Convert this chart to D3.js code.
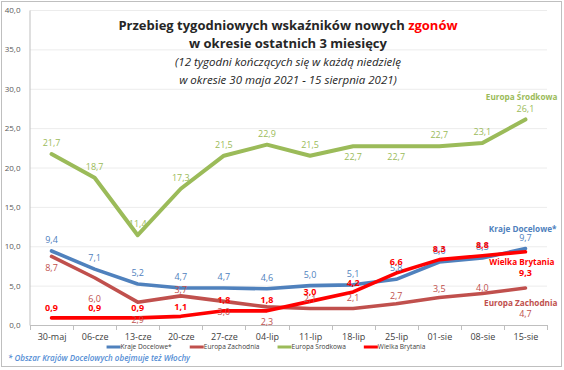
<!DOCTYPE html>
<html>
<head>
<meta charset="utf-8">
<script src="https://cdn.jsdelivr.net/npm/d3@7"></script>
<style>
	body { margin: 0; background: #fff; }
	svg text { font-family: "Open Sans", "Noto Sans", sans-serif; }
</style>
</head>
<body>
<svg id="chart" width="564" height="370"></svg>
<script>
// dane
var weeks = ["30-maj", "06-cze", "13-cze", "20-cze", "27-cze", "04-lip", "11-lip", "18-lip", "25-lip", "01-sie", "08-sie", "15-sie"];
var krajeDocelowe   = [9.4, 7.1, 5.2, 4.7, 4.7, 4.6, 5.0, 5.1, 5.8, 8.0, 8.5, 9.7];
var europaZachodnia = [8.7, 6.0, 2.9, 3.7, 3.0, 2.3, 2.1, 2.1, 2.7, 3.5, 4.0, 4.7];
var europaSrodkowa  = [21.7, 18.7, 11.4, 17.3, 21.5, 22.9, 21.5, 22.7, 22.7, 22.7, 23.1, 26.1];
var wielkaBrytania  = [0.9, 0.9, 0.9, 1.1, 1.8, 1.8, 3.0, 4.2, 6.6, 8.3, 8.8, 9.3];
var seriesNames = ["Kraje Docelowe*", "Europa Zachodnia", "Europa Środkowa", "Wielka Brytania"];
var yTicks = [0, 5, 10, 15, 20, 25, 30, 35, 40];

// przesunięcia etykiet (jak w oryginale – ręcznie poprzesuwane)
var labelDy = [
	[-11, -11, -11, -11, -11, -11, -11, -11, -11, -11, -11, -11],
	[11, 21, 18, -6, 10, 15, -10, -11, -8, -9, -6, 26],
	[-11, -11, -11, -11, -11, -11, -11, 11, 11, -11, -11, -11],
	[-10, -10, -10, -9, -11, -11, -10, -9, -11, -11, -11, 21]
];
var colors = ["#4f81bd", "#c0504d", "#9bbb59", "#ff0000"];

var svg = d3.select("#chart");
var fmt = function (d) { return d.toFixed(1).replace(".", ","); };

// ramka
svg.append("rect")
	.attr("x", 1.5).attr("y", 1.5).attr("width", 560).attr("height", 365)
	.attr("fill", "#fff").attr("stroke", "#bfbfbf");

var x = d3.scalePoint().domain(weeks).range([30, 547]).padding(0.5);
var y = d3.scaleLinear().domain([0, 40]).range([325, 10]);
var step = x.step();

// siatka
svg.append("g").selectAll("line").data(yTicks.slice(1)).enter().append("line")
	.attr("x1", 30).attr("x2", 547)
	.attr("y1", function (d) { return y(d) + 0.5; })
	.attr("y2", function (d) { return y(d) + 0.5; })
	.attr("stroke", "#ececec");

// oś Y
var yAxis = svg.append("g").attr("transform", "translate(29.5,0)")
	.call(d3.axisLeft(y).tickValues(yTicks).tickFormat(fmt).tickSize(0).tickPadding(9));
yAxis.select(".domain").attr("stroke", "#bfbfbf");
yAxis.selectAll("text").attr("font-size", 8).attr("fill", "#595959");

// oś X
var xAxis = svg.append("g").attr("transform", "translate(0,325.5)")
	.call(d3.axisBottom(x).tickSize(0).tickPadding(8));
xAxis.select(".domain").remove();
xAxis.selectAll("text").attr("font-size", 9).attr("fill", "#404040");
svg.append("line").attr("x1", 30).attr("x2", 547).attr("y1", 325.5).attr("y2", 325.5).attr("stroke", "#bfbfbf");
svg.append("g").selectAll("line").data(weeks.concat([null])).enter().append("line")
	.attr("x1", function (d, i) { return Math.round(x(weeks[0]) - step / 2 + i * step) + 0.5; })
	.attr("x2", function (d, i) { return Math.round(x(weeks[0]) - step / 2 + i * step) + 0.5; })
	.attr("y1", 325).attr("y2", 330)
	.attr("stroke", "#bfbfbf");

// linie
var allSeries = [krajeDocelowe, europaZachodnia, europaSrodkowa, wielkaBrytania];
var line = d3.line()
	.x(function (d, i) { return x(weeks[i]); })
	.y(function (d) { return y(d); });

allSeries.forEach(function (vals, s) {
	svg.append("path")
		.datum(vals)
		.attr("d", line)
		.attr("fill", "none")
		.attr("stroke", colors[s])
		.attr("stroke-width", s == 2 ? 4 : 3.6)
		.attr("stroke-linejoin", "round")
		.attr("stroke-linecap", "round");
});

// etykiety wartości
allSeries.forEach(function (vals, s) {
	svg.append("g").selectAll("text").data(vals).enter().append("text")
		.attr("x", function (d, i) { return x(weeks[i]); })
		.attr("y", function (d, i) { return y(d) + labelDy[s][i]; })
		.attr("dy", "0.35em")
		.attr("text-anchor", "middle")
		.attr("font-size", 9)
		.attr("font-weight", s == 3 ? "bold" : "normal")
		.attr("fill", colors[s])
		.text(fmt);
});

// nazwy serii przy ostatnim punkcie (prawa krawędź tekstu)
var nameOffset = [[31, -19], [32, 15], [32, -22], [29, 10]];
allSeries.forEach(function (vals, s) {
	var last = vals.length - 1;
	svg.append("text")
		.attr("x", x(weeks[last]) + nameOffset[s][0])
		.attr("y", y(vals[last]) + nameOffset[s][1])
		.attr("dy", "0.35em")
		.attr("text-anchor", "end")
		.attr("font-size", 8.2)
		.attr("font-weight", "bold")
		.attr("fill", colors[s])
		.text(seriesNames[s]);
});

// tytuł
var title = svg.append("g").attr("text-anchor", "middle");
var t1 = title.append("text").attr("x", 288).attr("y", 30)
	.attr("font-size", 13).attr("font-weight", "bold").attr("fill", "#262626");
t1.append("tspan").text("Przebieg tygodniowych wskaźników nowych ");
t1.append("tspan").attr("fill", "#ff0000").text("zgonów");
title.append("text").attr("x", 288).attr("y", 48)
	.attr("font-size", 13).attr("font-weight", "bold").attr("fill", "#262626")
	.text("w okresie ostatnich 3 miesięcy");
title.append("text").attr("x", 288).attr("y", 66)
	.attr("font-size", 11.5).attr("font-style", "italic").attr("fill", "#262626")
	.text("(12 tygodni kończących się w każdą niedzielę");
title.append("text").attr("x", 288).attr("y", 84)
	.attr("font-size", 11.5).attr("font-style", "italic").attr("fill", "#262626")
	.text("w okresie 30 maja 2021 - 15 sierpnia 2021)");

// legenda
var legend = svg.append("g");
var lx = 0;
seriesNames.forEach(function (name, s) {
	legend.append("line")
		.attr("x1", lx).attr("x2", lx + 14).attr("y1", 347).attr("y2", 347)
		.attr("stroke", colors[s]).attr("stroke-width", 3);
	var t = legend.append("text")
		.attr("x", lx + 14).attr("y", 347).attr("dy", "0.35em")
		.attr("font-size", 6.6).attr("fill", "#404040")
		.text(name);
	lx += 14 + t.node().getComputedTextLength() + 18;
});
lx -= 18;
legend.attr("transform", "translate(" + (266 - lx / 2) + ",0)");

// przypis
svg.append("text")
	.attr("x", 8).attr("y", 358).attr("dy", "0.35em")
	.attr("font-size", 8).attr("font-style", "italic").attr("font-weight", "600")
	.attr("fill", "#558ed5")
	.text("* Obszar Krajów Docelowych obejmuje też Włochy");
</script>
</body>
</html>
